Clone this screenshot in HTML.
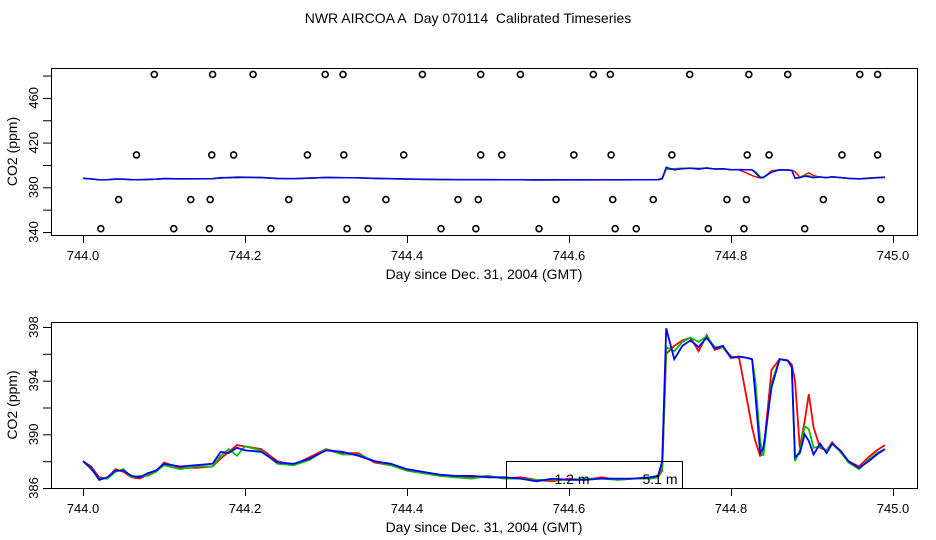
<!DOCTYPE html>
<html><head><meta charset="utf-8"><style>
body{margin:0;background:#fff}
svg{display:block;font-family:"Liberation Sans",sans-serif}
</style></head><body>
<svg id="chart" width="936" height="540">
<text x="468" y="23" font-size="14" text-anchor="middle" style="white-space:pre" xml:space="preserve">NWR AIRCOA A  Day 070114  Calibrated Timeseries</text>
</svg>
<script>
const days=[0,0.01,0.02,0.03,0.04,0.05,0.06,0.07,0.08,0.09,0.10,0.12,0.14,0.16,0.17,0.18,0.19,0.20,0.22,0.24,0.26,0.28,0.30,0.32,0.34,0.36,0.38,0.40,0.42,0.44,0.46,0.48,0.50,0.52,0.54,0.56,0.58,0.60,0.62,0.64,0.66,0.68,0.70,0.71,0.715,0.72,0.73,0.74,0.75,0.76,0.77,0.78,0.79,0.80,0.81,0.82,0.826,0.83,0.836,0.84,0.85,0.86,0.87,0.875,0.879,0.885,0.891,0.896,0.902,0.91,0.918,0.925,0.935,0.945,0.958,0.97,0.98,0.99];
const blueVals=[388.0,387.5,386.6,386.8,387.3,387.3,386.9,386.8,387.1,387.3,387.8,387.6,387.7,387.8,388.7,388.6,389.0,388.8,388.7,387.9,387.8,388.2,388.8,388.7,388.4,388.0,387.8,387.4,387.2,387.0,386.9,386.9,386.8,386.8,386.7,386.5,386.7,386.6,386.6,386.7,386.7,386.7,386.8,386.9,388.0,397.9,395.6,396.6,397.0,396.5,397.2,396.4,396.6,395.7,395.8,395.7,395.6,393.0,388.6,389.0,393.5,395.6,395.5,395.0,388.3,388.6,390.0,389.5,388.5,389.3,388.6,389.3,388.8,388.0,387.5,388.0,388.5,388.9];
const redVals=[388.0,387.6,386.8,386.7,387.4,387.2,386.8,386.7,387.0,387.2,387.9,387.5,387.5,387.6,388.2,388.7,389.2,389.1,388.9,388.0,387.7,388.3,388.9,388.6,388.6,387.9,387.7,387.3,387.1,387.0,386.8,386.8,386.9,386.7,386.8,386.6,386.5,386.7,386.6,386.8,386.6,386.7,386.7,386.8,387.3,396.0,396.6,397.0,397.2,396.2,397.4,396.3,396.5,395.8,395.7,392.5,390.5,389.5,388.4,388.6,394.8,395.6,395.5,395.2,394.0,389.0,391.0,393.0,390.5,389.0,388.8,389.4,388.7,388.0,387.6,388.3,388.8,389.2];
const greenVals=[388.0,387.4,386.7,386.7,387.2,387.4,386.8,386.9,386.9,387.2,387.7,387.4,387.6,387.6,388.4,388.9,388.4,389.1,388.8,387.8,387.7,388.1,388.9,388.5,388.5,388.0,387.7,387.3,387.1,386.9,386.8,386.7,386.9,386.7,386.7,386.6,386.6,386.6,386.7,386.7,386.6,386.7,386.7,386.8,387.5,396.5,396.2,396.9,397.2,396.9,397.3,396.5,396.5,395.7,395.8,395.7,395.6,394.0,389.5,388.4,393.8,395.6,395.5,395.0,388.0,388.8,390.6,390.4,389.0,389.1,388.8,389.3,388.7,387.9,387.4,388.1,388.6,388.9];
const circX=[0.088,0.160,0.210,0.299,0.321,0.419,0.491,0.540,0.630,0.651,0.749,0.822,0.870,0.959,0.981,
0.066,0.159,0.186,0.277,0.322,0.396,0.491,0.517,0.606,0.652,0.727,0.820,0.847,0.937,0.981,
0.044,0.133,0.157,0.254,0.325,0.374,0.463,0.488,0.584,0.654,0.704,0.795,0.819,0.914,0.985,
0.022,0.112,0.156,0.232,0.326,0.352,0.442,0.485,0.563,0.657,0.683,0.772,0.816,0.891,0.985];
const circY=[481,481,481,481,481,481,481,481,481,481,481,481,481,481,481,
409,409,409,409,409,409,409,409,409,409,409,409,409,409,409,
369,369,369,369,369,369,369,369,369,369,369,369,369,369,369,
343,343,343,343,343,343,343,343,343,343,343,343,343,343,343];
const xTicks=[744.0,744.2,744.4,744.6,744.8,745.0];
const topYLabels=[340,380,420,460];
const topYTicks=[340,360,380,400,420,440,460,480];
const botYLabels=[386,390,394,398];
const botYTicks=[386,388,390,392,394,396,398];

const svg=document.getElementById('chart');
const NS='http://www.w3.org/2000/svg';
function mk(tag,attrs,parent){const e=document.createElementNS(NS,tag);for(const k in attrs)e.setAttribute(k,attrs[k]);(parent||svg).appendChild(e);return e;}
const xs=d=>83+(d-744)*810;
const panels=[
 {top:68,bot:235,y:v=>232-(v-340)*1.1175,labels:topYLabels,ticks:topYTicks,name:'top'},
 {top:322,bot:488,y:v=>488-(v-386)*161/12,labels:botYLabels,ticks:botYTicks,name:'bottom'}];
panels.forEach((p,pi)=>{
 const g=mk('g',{});
 
 
 const box=mk('rect',{x:51.5,y:p.top+0.5,width:866,height:p.bot-p.top,fill:'none',stroke:'#000','stroke-width':1},g);
 
 
 const xa=mk('g',{},g);
 
 
 xTicks.forEach(t=>{
  mk('line',{x1:xs(t)+0.5,x2:xs(t)+0.5,y1:p.bot,y2:p.bot+8,stroke:'#000'},xa);
  const tx=mk('text',{x:xs(t),y:p.bot+25,'font-size':13,'text-anchor':'middle'},xa);
  tx.textContent=t.toFixed(1);
  
  
 });
 const xt=mk('text',{x:484,y:p.bot+44,'font-size':14,'text-anchor':'middle'},g);
 xt.textContent='Day since Dec. 31, 2004 (GMT)';
 
 
 const ya=mk('g',{},g);
 
 
 p.ticks.forEach(t=>mk('line',{x1:43,x2:51,y1:p.y(t)+0.5,y2:p.y(t)+0.5,stroke:'#000'},ya));
 p.labels.forEach(t=>{
  const tx=mk('text',{x:0,y:0,'font-size':13,'text-anchor':'middle',transform:`translate(38,${p.y(t)}) rotate(-90)`},ya);
  tx.textContent=t;
  
  
 });
 const yt=mk('text',{x:0,y:0,'font-size':14,'text-anchor':'middle',transform:`translate(17,${(p.top+p.bot)/2}) rotate(-90)`},g);
 yt.textContent='CO2 (ppm)';
 
 
 if(pi===0){
  circX.forEach((c,i)=>{
   const ci=mk('circle',{cx:xs(744+c),cy:p.y(circY[i]),r:3,fill:'none',stroke:'#000','stroke-width':1.6},g);
   
   
  });
 }
 [['red',redVals],['#00c000',greenVals],['blue',blueVals]].forEach(([col,vals],si)=>{
  const pts=days.map((d,i)=>xs(744+d).toFixed(1)+','+p.y(vals[i]).toFixed(1)).join(' ');
  const pl=mk('polyline',{points:pts,fill:'none',stroke:col,'stroke-width':pi?1.8:1.5},g);
  
  
 });
 if(pi===1){
  const lg=mk('g',{},g);
  
  
  mk('rect',{x:506.5,y:461.5,width:176,height:27,fill:'none',stroke:'#000'},lg);
  const a=mk('text',{x:572,y:484,'font-size':14,'text-anchor':'middle'},lg);
  a.textContent='1.2 m';
  
  
  const b=mk('text',{x:660,y:484,'font-size':14,'text-anchor':'middle'},lg);
  b.textContent='5.1 m';
  
  
 }
});
</script>
</body></html>
